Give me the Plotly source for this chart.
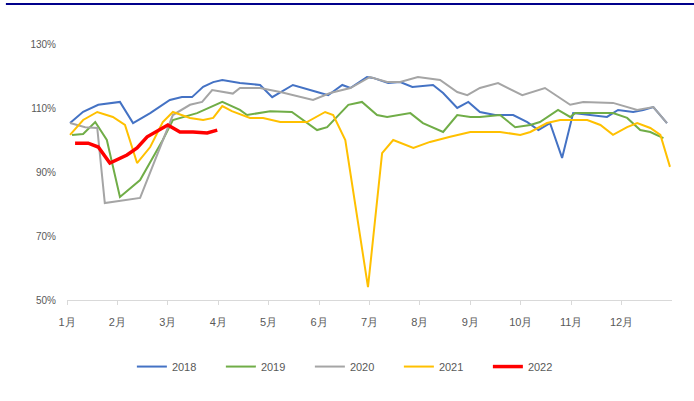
import plotly.graph_objects as go

# x positions are in months from Jan 1 (0 = 1月 start, 12 = year end)
x2018 = [0.06, 0.32, 0.62, 1.05, 1.31, 1.65, 2.04, 2.28, 2.48, 2.70, 2.90, 3.08, 3.43, 3.83, 4.07, 4.48,
         4.96, 5.18, 5.46, 5.62, 5.95, 6.07, 6.37, 6.61, 6.85, 7.26, 7.46, 7.74, 7.96, 8.19, 8.49, 8.85,
         9.13, 9.35, 9.58, 9.82, 10.04, 10.34, 10.71, 10.93, 11.23, 11.43, 11.63, 11.90]
y2018 = [105.3, 108.8, 111.0, 111.9, 105.3, 108.4, 112.5, 113.4, 113.4, 116.6, 118.1, 118.75, 117.8, 117.2, 113.4, 117.2,
         115.0, 114.0, 117.2, 116.25, 119.7, 119.4, 117.8, 118.1, 116.6, 117.2, 114.7, 110.0, 111.9, 108.75, 107.8, 107.8,
         105.6, 103.1, 105.3, 94.4, 108.4, 107.8, 107.2, 109.4, 108.75, 109.4, 110.3, 105.3]

x2019 = [0.10, 0.32, 0.56, 0.79, 1.05, 1.45, 1.90, 2.10, 2.58, 3.08, 3.43, 3.57, 4.03, 4.46, 4.96, 5.16,
         5.58, 5.85, 6.15, 6.35, 6.81, 7.06, 7.46, 7.74, 8.00, 8.19, 8.59, 8.89, 9.19, 9.38, 9.74, 9.98,
         10.08, 10.44, 10.83, 11.11, 11.37, 11.57, 11.83]
y2019 = [101.6, 101.9, 105.6, 100.0, 82.2, 87.5, 100.0, 106.25, 108.4, 111.9, 109.4, 107.8, 109.0, 108.75, 103.1, 104.0,
         111.0, 111.9, 107.8, 107.2, 108.4, 105.3, 102.5, 107.8, 107.2, 107.2, 107.8, 104.0, 104.7, 105.6, 109.4, 107.2,
         108.4, 108.4, 108.4, 106.9, 103.1, 102.5, 100.6]

x2020 = [0.06, 0.36, 0.60, 0.75, 1.45, 1.90, 2.10, 2.44, 2.68, 2.88, 3.08, 3.29, 3.43, 3.83, 4.23, 4.88,
         5.22, 5.62, 6.01, 6.35, 6.61, 6.96, 7.40, 7.74, 7.94, 8.19, 8.55, 9.03, 9.48, 9.98, 10.24, 10.83,
         11.31, 11.63, 11.90]
y2020 = [105.3, 104.0, 103.75, 80.3, 81.9, 99.4, 107.8, 111.0, 111.9, 115.6, 115.0, 114.5, 116.25, 116.25, 115.0, 112.5,
         114.7, 116.25, 119.7, 118.1, 118.1, 119.7, 118.75, 115.0, 114.0, 116.25, 117.8, 114.0, 116.25, 111.0, 111.9, 111.6,
         109.4, 110.3, 105.3]

x2021 = [0.06, 0.32, 0.60, 0.91, 1.15, 1.39, 1.65, 1.90, 2.10, 2.44, 2.70, 2.90, 3.08, 3.27, 3.63, 3.89,
         4.23, 4.76, 5.12, 5.28, 5.52, 5.97, 6.25, 6.47, 6.87, 7.20, 7.60, 8.00, 8.59, 8.99, 9.19, 9.52,
         9.78, 10.32, 10.58, 10.83, 11.11, 11.31, 11.57, 11.77, 11.96]
y2021 = [101.6, 106.25, 108.75, 107.2, 104.7, 92.8, 97.8, 105.6, 108.75, 106.9, 106.25, 106.9, 110.6, 109.0, 106.9, 106.9,
         105.6, 105.6, 108.75, 107.8, 100.0, 54.0, 95.9, 100.0, 97.5, 99.4, 101.0, 102.5, 102.5, 101.6, 102.5, 105.3,
         106.25, 106.25, 104.7, 101.6, 104.0, 105.3, 103.75, 101.6, 91.6]

x2022 = [0.16, 0.42, 0.62, 0.85, 1.19, 1.39, 1.59, 1.81, 2.00, 2.24, 2.50, 2.78, 2.98]
y2022 = [99.0, 99.0, 97.8, 92.8, 95.3, 97.5, 101.0, 103.1, 104.7, 102.5, 102.5, 102.2, 103.1]

month_ticks = [0, 1, 2, 3, 4, 5, 6, 7, 8, 9, 10, 11]
month_labels = ["1月", "2月", "3月", "4月", "5月", "6月", "7月", "8月", "9月", "10月", "11月", "12月"]
y_ticks = [50, 70, 90, 110, 130]
y_labels = ["50%", "70%", "90%", "110%", "130%"]

series = [
    ("2018", x2018, y2018, "#4472C4", 2),
    ("2019", x2019, y2019, "#70AD47", 2),
    ("2020", x2020, y2020, "#A5A5A5", 2),
    ("2021", x2021, y2021, "#FFC000", 2),
    ("2022", x2022, y2022, "#FF0000", 3.5),
]

fig = go.Figure()
for name, xs, ys, color, w in series:
    fig.add_trace(go.Scatter(x=xs, y=ys, mode="lines", name=name,
                             line=dict(color=color, width=w)))

font_fam = "Liberation Sans, Arial, sans-serif"
fig.update_layout(
    width=694, height=401,
    margin=dict(l=67, r=22, t=44, b=101),
    plot_bgcolor="white", paper_bgcolor="white",
    font=dict(family=font_fam, size=11, color="#595959"),
    showlegend=True,
    legend=dict(orientation="h", x=0.475, xanchor="center", y=-0.26, yanchor="middle",
                font=dict(size=11, color="#595959"),
                entrywidth=44, entrywidthmode="pixels"),
    xaxis=dict(range=[0, 12], tickvals=month_ticks, ticktext=month_labels,
               showgrid=False, zeroline=False, showline=True, linecolor="#D9D9D9", linewidth=1,
               ticks="outside", ticklen=4, tickcolor="#D9D9D9",
               ticklabelstandoff=8,
               tickfont=dict(size=11, color="#595959")),
    yaxis=dict(range=[50, 130], tickvals=y_ticks, ticktext=y_labels,
               showgrid=False, zeroline=False, showline=False, ticks="",
               ticklabelstandoff=10,
               tickfont=dict(size=10, color="#595959")),
    shapes=[dict(type="line", xref="paper", yref="paper",
                 x0=-0.101, x1=1.04, y0=1.156, y1=1.156,
                 line=dict(color="#00008B", width=2))],
)

fig.write_html("out.html", config={"displayModeBar": False},
               post_script="document.body.style.margin='0';")
